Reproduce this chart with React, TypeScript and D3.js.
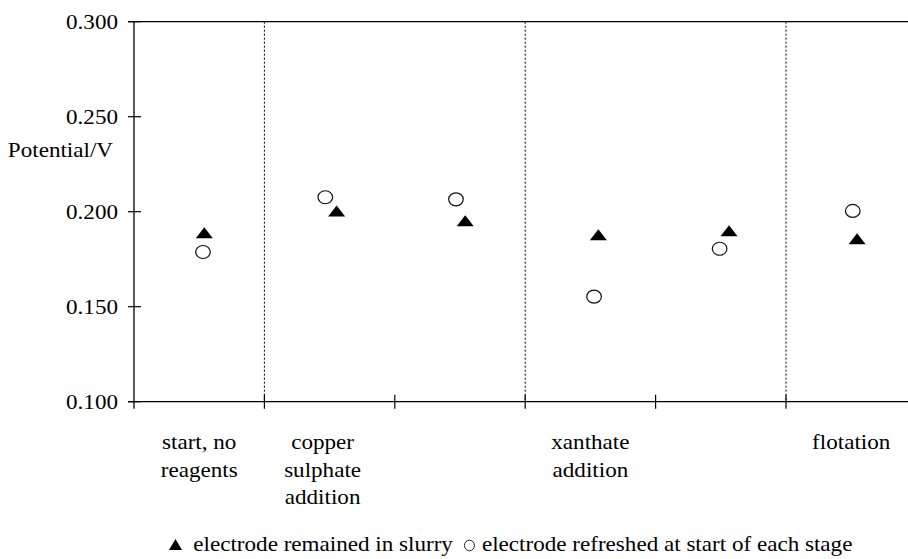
import React, { useEffect, useRef } from 'react';
import * as d3 from 'd3';

// category labels under the x axis (one entry per category, lines stacked)
const categoryLabels: string[][] = [
    ['start, no', 'reagents'],
    ['copper', 'sulphate', 'addition'],
    [],
    ['xanthate', 'addition'],
    [],
    ['flotation'],
];
const stageBoundaries = [1, 3, 5];
const yTicks = [0.1, 0.15, 0.2, 0.25, 0.3];

// electrode remained in slurry (filled triangles)
const remainedX = [0.539, 1.554, 2.540, 3.561, 4.563, 5.545];
const remainedV = [0.1889, 0.2004, 0.1952, 0.1879, 0.1900, 0.1858];

// electrode refreshed at start of each stage (open circles)
const refreshedX = [0.529, 1.467, 2.469, 3.528, 4.491, 5.512];
const refreshedV = [0.1788, 0.2076, 0.2065, 0.1553, 0.1805, 0.2004];

const legendRemained = 'electrode remained in slurry';
const legendRefreshed = 'electrode refreshed at start of each stage';
const yTitle = 'Potential/V';

function App() {
    const svgRef = useRef<SVGSVGElement>(null);

    useEffect(() => {
        if (!svgRef.current) return;
        const svg = d3.select(svgRef.current);
        svg.selectAll('*').remove();

        const width = 908;
        const left = 134;
        const top = 21.7;
        const bottom = 401.7;
        const right = 916.4;
        const fs = 21;
        const sx = 1.1;

        const x = d3.scaleLinear().domain([0, 6]).range([left, right]);
        const y = d3.scaleLinear().domain([0.1, 0.3]).range([bottom, top]);
        const fmt = d3.format('.3f');

        const txt = (g: any, s: string, tx: number, ty: number, anchor: string) =>
            g.append('text')
                .attr('transform', `translate(${tx},${ty}) scale(${sx},1)`)
                .attr('text-anchor', anchor)
                .style('font-family', "'Liberation Serif', 'Times New Roman', serif")
                .attr('font-size', fs)
                .attr('fill', '#000')
                .text(s);

        // top frame line
        svg.append('line')
            .attr('x1', left - 6).attr('x2', width)
            .attr('y1', top).attr('y2', top)
            .attr('stroke', '#000').attr('stroke-width', 1.3);

        // stage separators
        svg.selectAll('.sep').data(stageBoundaries).enter().append('line')
            .attr('x1', d => x(d)).attr('x2', d => x(d))
            .attr('y1', top).attr('y2', bottom)
            .attr('stroke', '#000').attr('stroke-width', 1)
            .attr('stroke-dasharray', '2,2');

        // y axis
        svg.append('line')
            .attr('x1', left).attr('x2', left)
            .attr('y1', top).attr('y2', bottom + 7)
            .attr('stroke', '#000').attr('stroke-width', 1.3);
        yTicks.forEach(t => {
            svg.append('line')
                .attr('x1', left - 6).attr('x2', left + 7)
                .attr('y1', y(t)).attr('y2', y(t))
                .attr('stroke', '#000').attr('stroke-width', 1.2);
            txt(svg, fmt(t), 118, y(t) + 7.5, 'end');
        });
        txt(svg, yTitle, 113, 157.3, 'end');

        // x axis
        svg.append('line')
            .attr('x1', left - 6).attr('x2', right)
            .attr('y1', bottom).attr('y2', bottom)
            .attr('stroke', '#000').attr('stroke-width', 1.3);
        d3.range(1, 7).forEach(i => {
            svg.append('line')
                .attr('x1', x(i)).attr('x2', x(i))
                .attr('y1', bottom - 7).attr('y2', bottom + 7)
                .attr('stroke', '#000').attr('stroke-width', 1.2);
        });

        // category labels
        categoryLabels.forEach((lines, i) => {
            lines.forEach((l, j) => {
                txt(svg, l, x(i + 0.5) - (i === 1 ? 7 : 0), 449 + j * 27.5, 'middle');
            });
        });

        const tri = (w: number, h: number) => `M${-w / 2},${h / 2}L0,${-h / 2}L${w / 2},${h / 2}Z`;

        // refreshed (open circles)
        svg.selectAll('.refreshed').data(refreshedV).enter().append('ellipse')
            .attr('cx', (d, i) => x(refreshedX[i]))
            .attr('cy', d => y(d))
            .attr('rx', 7.3).attr('ry', 6.5)
            .attr('fill', 'none')
            .attr('stroke', '#111').attr('stroke-width', 1.2);

        // remained (filled triangles)
        svg.selectAll('.remained').data(remainedV).enter().append('path')
            .attr('d', tri(17, 11))
            .attr('transform', (d, i) => `translate(${x(remainedX[i])},${y(d)})`)
            .attr('fill', '#000');

        // legend
        const ly = 551;
        const lg = svg.append('g');
        lg.append('path').attr('d', tri(13, 11)).attr('transform', `translate(175.5,${ly - 6.5})`).attr('fill', '#000');
        const t1 = txt(lg, legendRemained, 193.3, ly, 'start');
        const w1 = (t1.node() as SVGTextElement).getComputedTextLength() * sx;
        const cx = 193.3 + w1 + 16.5;
        lg.append('ellipse').attr('cx', cx).attr('cy', ly - 5.5).attr('rx', 5).attr('ry', 5.3)
            .attr('fill', 'none').attr('stroke', '#222').attr('stroke-width', 1);
        txt(lg, legendRefreshed, cx + 12.5, ly, 'start');
    }, []);

    return (
        <svg ref={svgRef} width={908} height={559}
            style={{ position: 'absolute', left: 0, top: 0, background: '#fff' }} />
    );
}

export default App;
